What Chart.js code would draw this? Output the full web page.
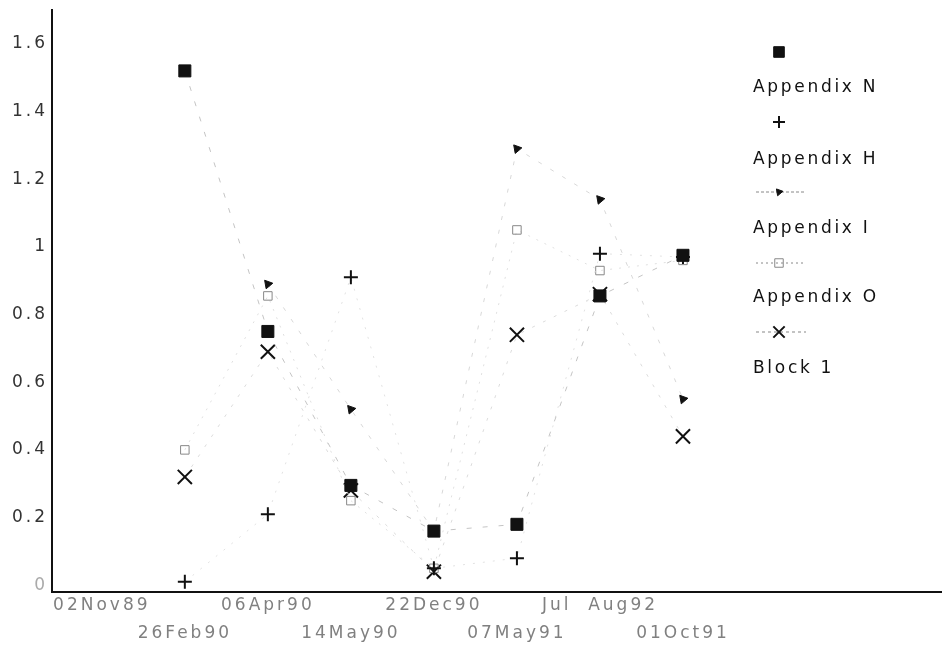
<!DOCTYPE html>
<html>
<head>
<meta charset="utf-8">
<title>Appendix chart</title>
<script src="https://cdn.jsdelivr.net/npm/chart.js@4.4.1/dist/chart.umd.min.js"></script>
<style>
  html, body { margin: 0; padding: 0; background: #fff; }
  #wrap { position: relative; width: 942px; height: 652px; }
  #legend { position: absolute; left: 750px; top: 0; width: 190px; height: 400px;
            font-family: "DejaVu Sans", sans-serif; font-size: 17px; letter-spacing: 2.7px; color: #111; }
  .lab { position: absolute; left: 3px; white-space: nowrap; line-height: 20px; }
</style>
</head>
<body>
<div id="wrap">
  <canvas id="chart" width="942" height="652"></canvas>
  <div id="legend"></div>
</div>
<script>
// Tick labels (one per date column)
const dates = ['02Nov89', '26Feb90', '06Apr90', '14May90', '22Dec90', '07May91', 'Jul  Aug92', '01Oct91'];
const yTicks = [0, 0.2, 0.4, 0.6, 0.8, 1, 1.2, 1.4, 1.6];

// Series values (null = no point)
const appendixN = [null, 1.52, 0.75, 0.295, 0.16, 0.18, 0.855, 0.975];
const appendixH = [null, 0.01, 0.21, 0.91, 0.05, 0.08, 0.98, 0.97];
const appendixI = [null, null, 0.89, 0.52, 0.16, 1.29, 1.14, 0.55];
const appendixO = [null, 0.40, 0.855, 0.25, 0.05, 1.05, 0.93, 0.96];
const block1 = [null, 0.32, 0.69, 0.28, 0.04, 0.74, 0.86, 0.44];

function pts(arr) {
    return arr.map((v, i) => ({ x: i, y: v }));
}

const datasets = [
    {
        label: 'Appendix N', data: pts(appendixN),
        borderColor: '#c4c4c4', borderWidth: 1, borderDash: [5, 11],
        pointStyle: 'rect', pointRadius: 8.5,
        pointBackgroundColor: '#111', pointBorderColor: '#111', pointBorderWidth: 1
    },
    {
        label: 'Appendix H', data: pts(appendixH),
        borderColor: '#e2e2e2', borderWidth: 1, borderDash: [2, 8],
        pointStyle: 'cross', pointRadius: 7,
        pointBackgroundColor: '#111', pointBorderColor: '#111', pointBorderWidth: 2
    },
    {
        label: 'Appendix I', data: pts(appendixI),
        borderColor: '#d8d8d8', borderWidth: 1, borderDash: [4, 10],
        pointStyle: 'triangle', pointRadius: 5, pointRotation: -40,
        pointBackgroundColor: '#111', pointBorderColor: '#111', pointBorderWidth: 1
    },
    {
        label: 'Appendix O', data: pts(appendixO),
        borderColor: '#e0e0e0', borderWidth: 1, borderDash: [2, 7],
        pointStyle: 'rect', pointRadius: 6,
        pointBackgroundColor: 'rgba(255,255,255,0)', pointBorderColor: '#888', pointBorderWidth: 1
    },
    {
        label: 'Block 1', data: pts(block1),
        borderColor: '#dcdcdc', borderWidth: 1, borderDash: [3, 9],
        pointStyle: 'crossRot', pointRadius: 10,
        pointBackgroundColor: '#111', pointBorderColor: '#111', pointBorderWidth: 2
    }
];

// canvas letter spacing, the old plot has very spread out text
const spacing = {
    id: 'spacing',
    beforeLayout(chart) { chart.ctx.letterSpacing = '3px'; },
    beforeDraw(chart) { chart.ctx.letterSpacing = '3px'; }
};

function noPad(scale) {
    scale.paddingLeft = 0;
    scale.paddingRight = 0;
    scale.paddingTop = 0;
    scale.paddingBottom = 0;
}

const chart = new Chart(document.getElementById('chart').getContext('2d'), {
    type: 'line',
    data: { datasets: datasets },
    plugins: [spacing],
    options: {
        responsive: false,
        animation: false,
        spanGaps: false,
        layout: { autoPadding: false, padding: { top: 10, right: 0, left: 0, bottom: 0 } },
        plugins: { legend: { display: false }, tooltip: { enabled: false } },
        scales: {
            x: {
                type: 'linear',
                min: -0.6,
                max: 10.12,
                afterBuildTicks(scale) {
                    scale.ticks = dates.map((d, i) => ({ value: i }));
                },
                afterFit(scale) { scale.height = 60; noPad(scale); },
                grid: { display: false, drawTicks: false },
                border: { display: true, color: '#111', width: 2 },
                ticks: {
                    autoSkip: false, maxRotation: 0, padding: 0,
                    color: '#808080',
                    font: { family: 'DejaVu Sans', size: 17, lineHeight: '28px' },
                    callback: (v) => {
                        const t = dates[Math.round(v)];
                        return Math.round(v) % 2 === 1 ? ['', t] : t;
                    }
                }
            },
            y: {
                type: 'linear',
                min: -0.02,
                max: 1.7,
                afterBuildTicks(scale) {
                    scale.ticks = yTicks.map(v => ({ value: v }));
                },
                afterFit(scale) { scale.width = 52; noPad(scale); },
                grid: { display: false, drawTicks: false },
                border: { display: true, color: '#111', width: 2 },
                ticks: {
                    padding: 4,
                    color: (ctx) => ctx.tick && ctx.tick.value === 0 ? '#aaa' : '#333',
                    font: { family: 'DejaVu Sans', size: 17 },
                    callback: (v) => String(Math.round(v * 10) / 10)
                }
            }
        }
    }
});

// Legend: symbol row above each label, like the original plot
const legend = document.getElementById('legend');
const legendRows = [
    { symY: 52, textY: 86, line: null },
    { symY: 122, textY: 158, line: null },
    { symY: 192, textY: 227, line: [3, 2] },
    { symY: 263, textY: 296, line: [2, 3] },
    { symY: 332, textY: 367, line: [3, 3] }
];

datasets.forEach((ds, i) => {
    const row = legendRows[i];
    const c = document.createElement('canvas');
    c.width = 70; c.height = 26;
    c.style.position = 'absolute';
    c.style.left = '0px';
    c.style.top = (row.symY - 13) + 'px';
    const g = c.getContext('2d');
    if (row.line) {
        g.strokeStyle = '#888';
        g.lineWidth = 1;
        g.setLineDash(row.line);
        g.beginPath();
        g.moveTo(6, 13);
        g.lineTo(56, 13);
        g.stroke();
        g.setLineDash([]);
    }
    g.fillStyle = ds.pointBackgroundColor;
    g.strokeStyle = ds.pointBorderColor;
    g.lineWidth = ds.pointBorderWidth;
    let r = ds.pointRadius;
    if (i === 0) r = 7.5;
    if (i === 1) r = 6;
    if (i === 2) r = 4;
    if (i === 4) r = 8;
    Chart.helpers.drawPoint(g, {
        pointStyle: ds.pointStyle, radius: r,
        rotation: ds.pointRotation || 0, borderWidth: ds.pointBorderWidth
    }, 29, 13);
    legend.appendChild(c);

    const lab = document.createElement('div');
    lab.className = 'lab';
    lab.style.top = (row.textY - 10) + 'px';
    lab.textContent = ds.label;
    legend.appendChild(lab);
});
</script>
</body>
</html>
